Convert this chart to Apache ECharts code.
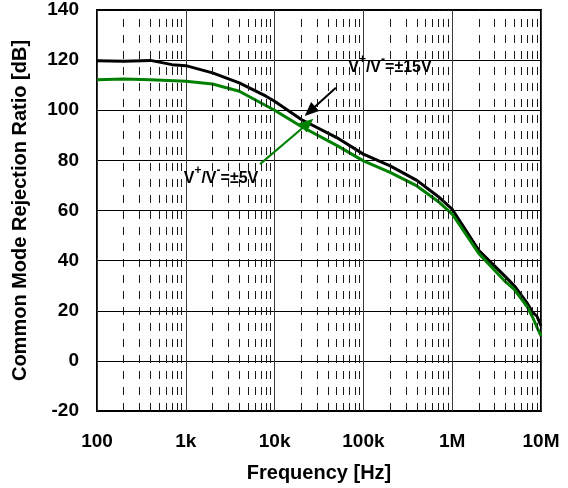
<!DOCTYPE html>
<html>
<head>
<meta charset="utf-8">
<script src="https://cdn.jsdelivr.net/npm/echarts@6/dist/echarts.min.js"></script>
<style>
  html, body { margin: 0; padding: 0; background: #fff; }
  #chart { width: 568px; height: 488px; }
</style>
</head>
<body>
<div id="chart"></div>
<script>
// Frequency points (Hz) for each supply voltage curve
const freq15 = [100, 200, 400, 700, 1e3, 2e3, 4e3, 8e3, 1e4, 2e4, 5e4, 1e5, 2e5, 4e5, 7e5, 1e6, 2e6, 4e6, 5e6, 7e6, 8e6, 9e6, 1e7];
const cmrr15 = [119.8, 119.6, 119.9, 118.2, 117.8, 114.9, 110.9, 105.6, 103.6, 96.3, 89.1, 82.5, 77.8, 72.0, 65.5, 60.5, 44.0, 33.5, 30.0, 23.0, 19.5, 17.8, 14.0];

const freq5 = [100, 200, 400, 1e3, 2e3, 4e3, 1e4, 2e4, 5e4, 1e5, 2e5, 4e5, 7e5, 1e6, 2e6, 4e6, 5e6, 7e6, 8e6, 9e6, 1e7];
const cmrr5 = [112.2, 112.5, 112.2, 111.6, 110.5, 107.6, 100.0, 93.5, 86.0, 79.8, 75.2, 69.8, 63.5, 58.6, 42.8, 31.5, 28.5, 21.6, 17.6, 13.5, 10.0];

// Axis tick labels
const xTickValues = [100, 1e3, 1e4, 1e5, 1e6, 1e7];
const xTickLabels = ['100', '1k', '10k', '100k', '1M', '10M'];
const yTicks = [-20, 0, 20, 40, 60, 80, 100, 120, 140];

// Curve annotations: label anchor and arrow [from, to] in data units
const label15 = { text: '±15V', at: [1.99e5, 118.3] };
const label5 = { text: '±5V', at: [2.49e3, 73.9] };
const arrow15 = [[4.9e4, 109.0], [2.5e4, 99.6]];
const arrow5 = [[6.85e3, 78.5], [2.38e4, 94.8]];

// Minor log grid: 2..9 within every decade
const minorFreqs = [];
for (let d = 2; d < 7; d++) {
  for (let k = 2; k <= 9; k++) minorFreqs.push(k * Math.pow(10, d));
}

const FONT = 'Liberation Sans, Arial, sans-serif';
const BLACK = '#000000';
const GREEN = '#008000';

const zip = (xs, ys) => xs.map((x, i) => [x, ys[i]]);
const supplyLabel = (v) => '{v|V}{s|+}{v|/V}{s|-}{v|=' + v + '}';
const richStyle = {
  v: { fontSize: 16, fontWeight: 'bold', fontFamily: FONT, color: '#000', lineHeight: 22, verticalAlign: 'bottom' },
  s: { fontSize: 12, fontWeight: 'bold', fontFamily: FONT, color: '#000', lineHeight: 12, verticalAlign: 'top' }
};

const chart = echarts.init(document.getElementById('chart'), null, { renderer: 'canvas' });

chart.setOption({
  animation: false,
  backgroundColor: '#fff',
  grid: {
    left: 97, top: 10, right: 27, bottom: 75,
    show: true, borderColor: '#000', borderWidth: 2, backgroundColor: 'transparent'
  },
  xAxis: {
    type: 'log',
    logBase: 10,
    min: 100,
    max: 1e7,
    name: 'Frequency [Hz]',
    nameLocation: 'middle',
    nameGap: 52,
    nameTextStyle: { fontSize: 20, fontWeight: 'bold', fontFamily: FONT, color: '#000' },
    axisLine: { show: false },
    axisTick: { show: false },
    axisLabel: {
      margin: 21,
      fontSize: 19, fontWeight: 'bold', fontFamily: FONT, color: '#000',
      formatter: (val) => {
        const i = xTickValues.findIndex(t => Math.abs(Math.log10(t) - Math.log10(val)) < 1e-6);
        return i >= 0 ? xTickLabels[i] : '';
      }
    },
    splitLine: { show: true, lineStyle: { color: '#3a3a3a', width: 1, type: 'solid' } }
  },
  yAxis: {
    type: 'value',
    min: yTicks[0],
    max: yTicks[yTicks.length - 1],
    interval: 20,
    name: 'Common Mode Rejection Ratio [dB]',
    nameLocation: 'middle',
    nameGap: 67,
    nameTextStyle: { fontSize: 20, fontWeight: 'bold', fontFamily: FONT, color: '#000' },
    axisLine: { show: false },
    axisTick: { show: false },
    axisLabel: {
      margin: 18,
      fontSize: 19, fontWeight: 'bold', fontFamily: FONT, color: '#000'
    },
    splitLine: { show: true, lineStyle: { color: '#000', width: 1.2 } }
  },
  series: [
    {
      // dashed minor frequency grid
      type: 'line',
      data: [],
      z: 1,
      silent: true,
      markLine: {
        silent: true,
        symbol: ['none', 'none'],
        label: { show: false },
        animation: false,
        lineStyle: { color: '#1a1a1a', width: 1, type: [8, 8] },
        data: minorFreqs.map(f => ({ xAxis: f }))
      }
    },
    {
      name: '±15V',
      type: 'line',
      data: zip(freq15, cmrr15),
      showSymbol: false,
      z: 3,
      lineStyle: { color: BLACK, width: 3 },
      markLine: {
        silent: true,
        symbol: ['none', 'triangle'],
        symbolSize: [12, 14],
        label: { show: false },
        lineStyle: { color: BLACK, width: 2, type: 'solid' },
        data: [[{ coord: arrow15[0] }, { coord: arrow15[1] }]]
      },
      markPoint: {
        silent: true,
        symbol: 'circle',
        symbolSize: 0,
        data: [{
          coord: label15.at,
          label: {
            show: true, position: 'inside',
            formatter: supplyLabel(label15.text),
            rich: richStyle
          }
        }]
      }
    },
    {
      name: '±5V',
      type: 'line',
      data: zip(freq5, cmrr5),
      showSymbol: false,
      z: 4,
      lineStyle: { color: GREEN, width: 3 },
      markLine: {
        silent: true,
        symbol: ['none', 'triangle'],
        symbolSize: [12, 14],
        label: { show: false },
        lineStyle: { color: GREEN, width: 2, type: 'solid' },
        data: [[{ coord: arrow5[0] }, { coord: arrow5[1] }]]
      },
      markPoint: {
        silent: true,
        symbol: 'circle',
        symbolSize: 0,
        data: [{
          coord: label5.at,
          label: {
            show: true, position: 'inside',
            formatter: supplyLabel(label5.text),
            rich: richStyle
          }
        }]
      }
    }
  ]
});
</script>
</body>
</html>
